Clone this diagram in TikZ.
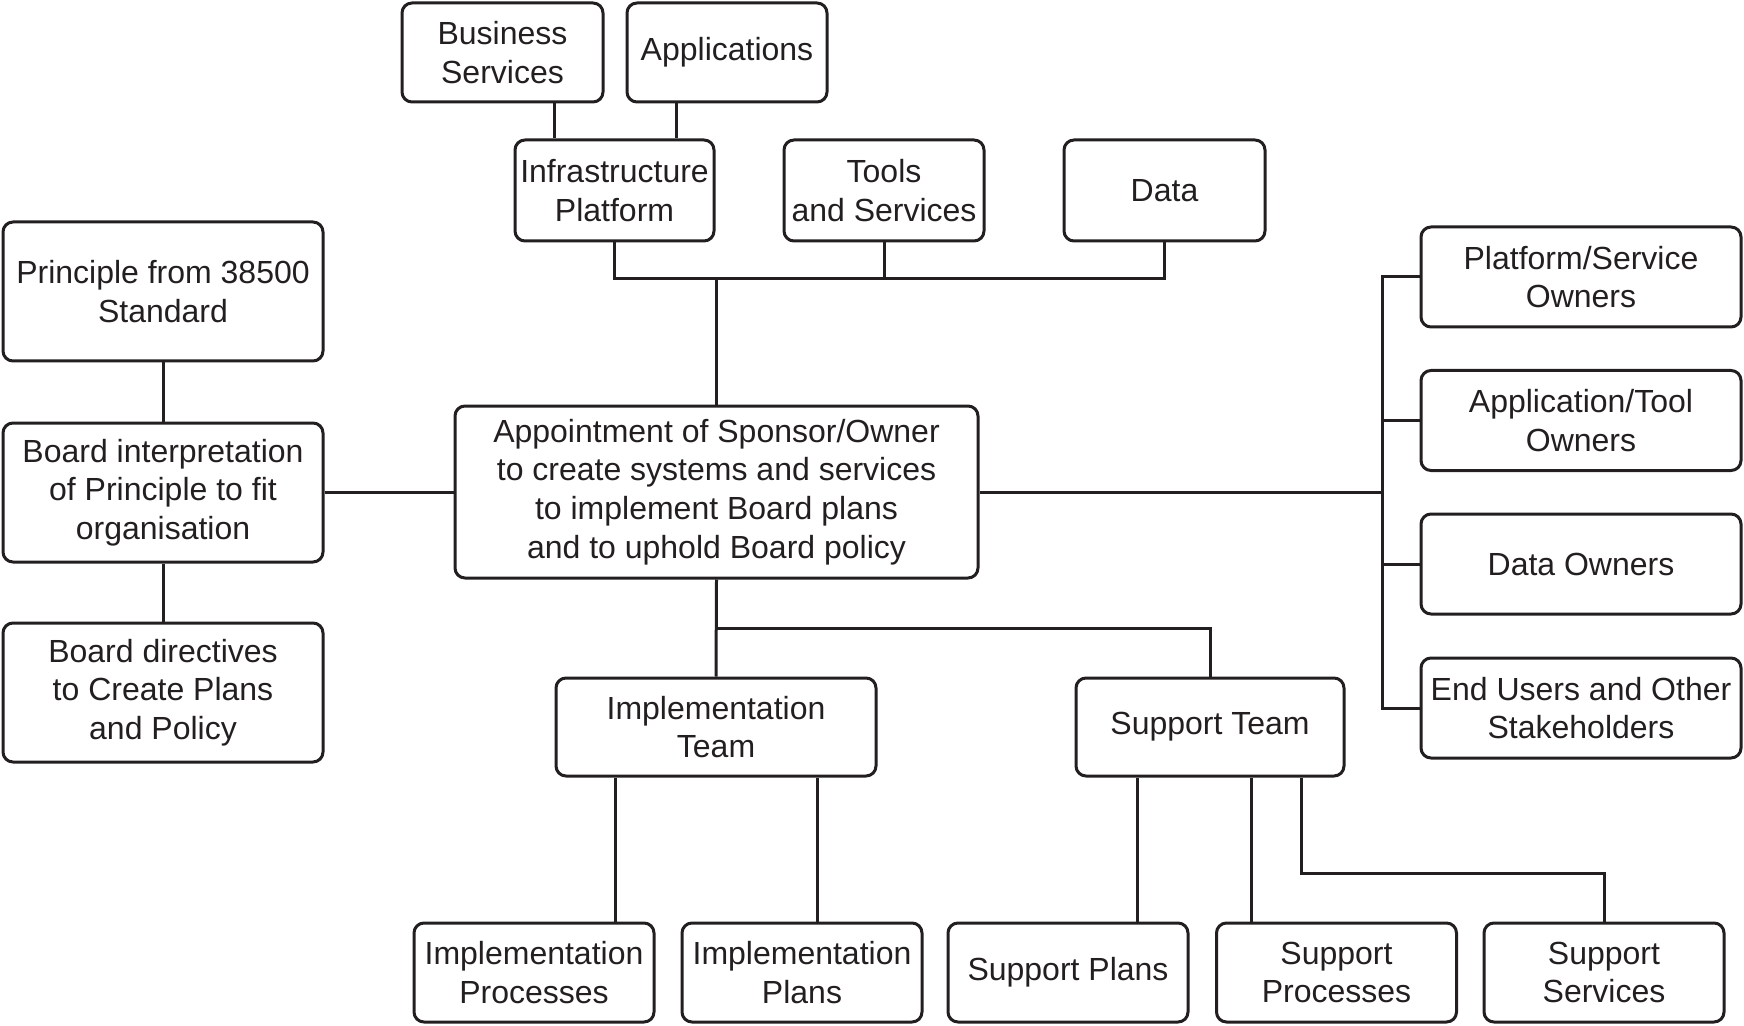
\documentclass[tikz,border=0pt]{standalone}
\usepackage{fontspec}
\setmainfont{Liberation Sans}
\definecolor{ink}{RGB}{35,31,32}
\begin{document}
\begin{tikzpicture}[x=0.5pt,y=-0.5pt,
  box/.style={draw=ink, line width=1.5pt, rounded corners=5pt, align=center,
    inner sep=0pt, text=ink, font=\fontsize{16}{19.3}\selectfont},
  link/.style={draw=ink, line width=1.5pt}]
\useasboundingbox (0,0) rectangle (1744,1026);
% top
\node[box, minimum width=100.5pt, minimum height=49.5pt] (bs) at (502.5,52.5) {Business\\Services};
\node[box, minimum width=100pt, minimum height=49.5pt] (app) at (727,52.5) {Applications};
\node[box, minimum width=99.5pt, minimum height=50.5pt] (infra) at (614.5,190.5) {Infrastructure\\Platform};
\node[box, minimum width=100pt, minimum height=50.5pt] (tools) at (884,190.5) {Tools\\and Services};
\node[box, minimum width=100.5pt, minimum height=50.5pt] (data) at (1164.5,190.5) {Data};
% left
\node[box, minimum width=160pt, minimum height=69.5pt] (prin) at (163,291.5) {Principle from 38500\\Standard};
\node[box, minimum width=160pt, minimum height=69.5pt] (interp) at (163,492.5) {Board interpretation\\of Principle to fit\\organisation};
\node[box, minimum width=160pt, minimum height=69.5pt] (direct) at (163,692.5) {Board directives\\to Create Plans\\and Policy};
% centre
\node[box, minimum width=261.5pt, minimum height=86pt] (central) at (716.5,492) {Appointment of Sponsor/Owner\\to create systems and services\\to implement Board plans\\and to uphold Board policy};
% right
\node[box, minimum width=160pt, minimum height=50pt] (pso) at (1581,277) {Platform/Service\\Owners};
\node[box, minimum width=160pt, minimum height=50pt] (ato) at (1581,420.5) {Application/Tool\\Owners};
\node[box, minimum width=160pt, minimum height=50pt] (do) at (1581,564) {Data Owners};
\node[box, minimum width=160pt, minimum height=50pt] (eu) at (1581,708) {End Users and Other\\Stakeholders};
% teams
\node[box, minimum width=160pt, minimum height=49pt] (impl) at (716,727) {Implementation\\Team};
\node[box, minimum width=134pt, minimum height=49pt] (supp) at (1210,727) {Support Team};
% bottom
\node[box, minimum width=120pt, minimum height=49.5pt] (ip) at (534,972.5) {Implementation\\Processes};
\node[box, minimum width=120pt, minimum height=49.5pt] (ipl) at (802,972.5) {Implementation\\Plans};
\node[box, minimum width=120pt, minimum height=49.5pt] (sp) at (1068,972.5) {Support Plans};
\node[box, minimum width=120pt, minimum height=49.5pt] (spr) at (1336.5,972.5) {Support\\Processes};
\node[box, minimum width=120pt, minimum height=49.5pt] (ss) at (1604,972.5) {Support\\Services};
% junction coordinates
\coordinate (topbus) at (716,279);
\coordinate (rbus) at (1382,492);
\coordinate (mbus) at (716,628);
\coordinate (bend) at (1301,873);
% connectors top
\draw[link] (554,0 |- bs.south) -- (554,0 |- infra.north);
\draw[link] (676,0 |- app.south) -- (676,0 |- infra.north);
\draw[link] (infra.south) |- (topbus) -| (data.south);
\draw[link] (tools.south) -- (tools.south |- topbus);
\draw[link] (central.north) -- (central.north |- topbus);
% left
\draw[link] (prin.south) -- (interp.north);
\draw[link] (interp.south) -- (direct.north);
\draw[link] (interp.east) -- (central.west |- interp.east);
% right
\draw[link] (central.east) -- (rbus);
\draw[link] (pso.west) -- (rbus |- pso.west) -- (rbus |- eu.west) -- (eu.west);
\draw[link] (ato.west) -- (rbus |- ato.west);
\draw[link] (do.west) -- (rbus |- do.west);
% teams
\draw[link] (central.south) -- (impl.north);
\draw[link] (mbus) -| (supp.north);
\draw[link] (615,0 |- impl.south) -- (615,0 |- ip.north);
\draw[link] (817,0 |- impl.south) -- (817,0 |- ipl.north);
\draw[link] (1137,0 |- supp.south) -- (1137,0 |- sp.north);
\draw[link] (1251,0 |- supp.south) -- (1251,0 |- spr.north);
\draw[link] (bend |- supp.south) -- (bend) -| (ss.north);
\end{tikzpicture}
\end{document}
